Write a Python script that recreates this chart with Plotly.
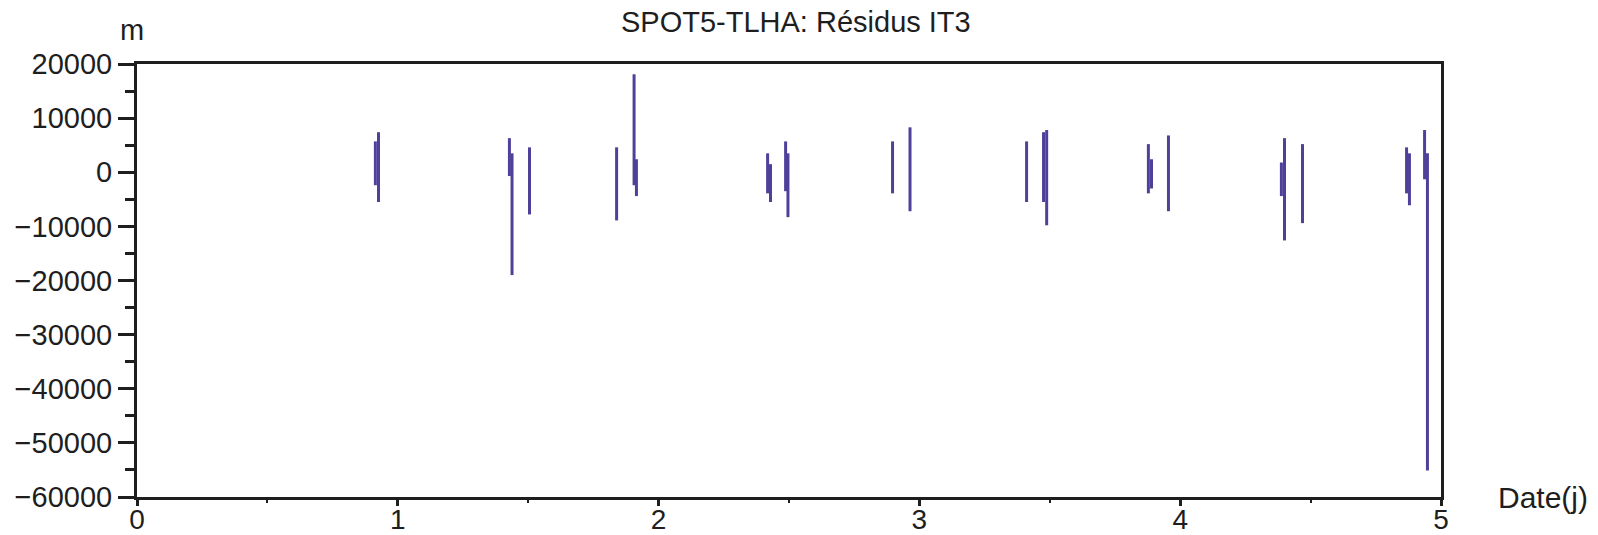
import plotly.graph_objects as go

# Dates (days) of each residual segment, with min and max residual (m)
dates = [0.914, 0.926, 1.428, 1.438, 1.505, 1.839, 1.906, 1.915, 2.418, 2.429,
         2.487, 2.496, 2.897, 2.964, 3.411, 3.476, 3.488, 3.878, 3.890, 3.955,
         4.388, 4.400, 4.469, 4.868, 4.879, 4.937, 4.948]
res_max = [5700, 7400, 6300, 3500, 4600, 4600, 18100, 2400, 3500, 1500,
           5700, 3500, 5700, 8300, 5700, 7400, 7800, 5200, 2400, 6800,
           1800, 6300, 5200, 4600, 3500, 7800, 3500]
res_min = [-2400, -5500, -700, -19000, -7800, -8900, -2400, -4400, -3900, -5500,
           -3500, -8300, -3900, -7200, -5500, -5500, -9800, -3900, -3000, -7200,
           -4400, -12600, -9400, -3900, -6100, -1300, -55100]

y_ticks = [20000, 10000, 0, -10000, -20000, -30000, -40000, -50000, -60000]
x_ticks = [0, 1, 2, 3, 4, 5]

xs, ys = [], []
for d, lo, hi in zip(dates, res_min, res_max):
    xs += [d, d, None]
    ys += [lo, hi, None]

FONT = "Liberation Sans"
AX = "#1e1e1e"

fig = go.Figure()
fig.add_trace(go.Scatter(x=xs, y=ys, mode="lines",
                         line=dict(color="#50409A", width=3),
                         hoverinfo="skip", showlegend=False))

fig.update_layout(
    width=1598, height=535,
    margin=dict(l=137, r=157, t=64, b=38),
    paper_bgcolor="white", plot_bgcolor="white",
    font=dict(family=FONT, color="#1e1e1e", size=29),
    showlegend=False,
    annotations=[
        dict(text="SPOT5-TLHA: Résidus IT3", xref="paper", yref="paper",
             x=0.505, y=1.098, xanchor="center", yanchor="middle",
             showarrow=False, font=dict(size=29, family=FONT, color="#1e1e1e")),
        dict(text="m", xref="paper", yref="paper",
             x=-0.004, y=1.078, xanchor="center", yanchor="middle",
             showarrow=False, font=dict(size=29, family=FONT, color="#1e1e1e")),
        dict(text="Date(j)", xref="paper", yref="paper",
             x=1.042, y=0.0, xanchor="left", yanchor="middle",
             showarrow=False, font=dict(size=30, family=FONT, color="#1e1e1e")),
    ],
)

fig.update_xaxes(
    range=[0, 5], tickmode="array", tickvals=x_ticks,
    ticktext=[str(v) for v in x_ticks], automargin=False,
    showgrid=False, zeroline=False,
    showline=True, linewidth=3, linecolor=AX, mirror=True,
    ticks="outside", ticklen=6, tickwidth=3, tickcolor=AX,
    ticklabelstandoff=-11,
    minor=dict(dtick=0.5, ticks="outside", ticklen=3, tickwidth=2, tickcolor=AX),
    tickfont=dict(size=28, family=FONT, color="#1e1e1e"),
)
fig.update_yaxes(
    range=[-60000, 20000], tickmode="array", tickvals=y_ticks,
    ticktext=["−" + str(-v) if v < 0 else str(v) for v in y_ticks],
    automargin=False,
    showgrid=False, zeroline=False,
    showline=True, linewidth=3, linecolor=AX, mirror=True,
    ticks="outside", ticklen=16, tickwidth=3, tickcolor=AX,
    minor=dict(dtick=5000, ticks="outside", ticklen=9, tickwidth=3, tickcolor=AX),
    tickfont=dict(size=29, family=FONT, color="#1e1e1e"),
)

fig.write_html("out.html")
